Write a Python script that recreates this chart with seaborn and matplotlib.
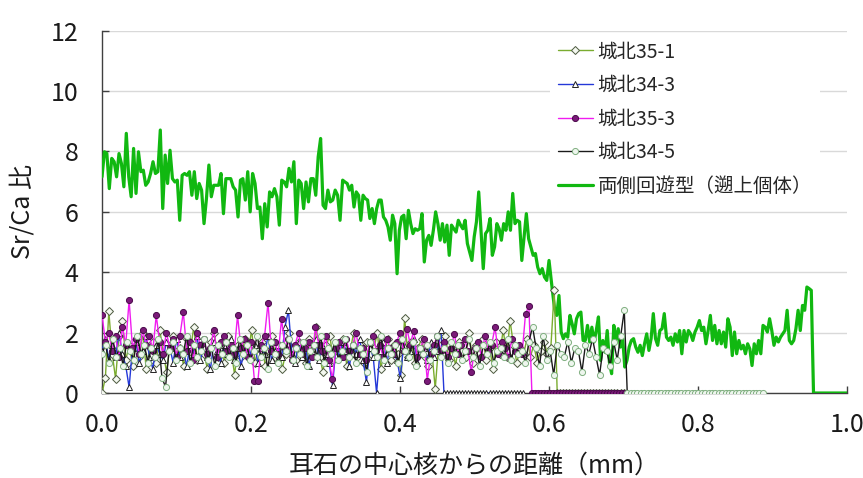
import numpy as np
import pandas as pd
import matplotlib
matplotlib.use("Agg")
import matplotlib.pyplot as plt
import seaborn as sns

sns.set_theme(style="white")
plt.rcParams["font.family"] = ["Noto Sans CJK JP", "DejaVu Sans"]

# ---------------------------------------------------------------------------
# Sr/Ca line-scan data (distance from otolith core, mm)
# ---------------------------------------------------------------------------
# amphidromous (upstream-migrating) reference profile, in three scan pieces
green_a = [7.16, 7.99, 7.93, 6.77, 7.77, 7.66, 7.16, 7.93, 7.60, 6.83, 8.60, 7.16, 6.50, 8.10, 6.61,
           7.99, 7.33, 7.38, 6.88, 6.99, 7.27, 7.66, 7.27, 7.33, 8.71, 6.11, 7.88, 6.94, 8.04, 7.10,
           6.99, 7.05, 5.72, 7.21, 7.27, 7.21, 7.33, 6.55, 7.33, 6.44, 6.94, 6.72, 5.61, 6.44, 7.55,
           6.50, 6.88, 6.88, 6.88, 7.27, 5.94, 7.10, 7.10, 7.10, 6.83, 6.72, 5.83, 7.05, 7.10, 6.39,
           7.33, 6.00, 7.27, 6.94, 6.11, 6.16, 5.11, 6.27, 5.50, 6.66, 6.50, 6.77, 6.50, 5.56, 7.05,
           6.99, 6.83, 7.44, 6.99, 7.66, 5.61, 7.05, 6.94, 6.11, 6.99, 6.33, 7.10, 7.10, 6.55, 7.82,
           8.43, 6.22, 6.11, 6.72, 6.33, 6.39, 6.72, 6.55, 5.72]
green_b = [7.05, 6.99, 6.94, 6.72, 6.88, 6.16, 6.66, 6.55, 5.72, 6.55, 6.44, 6.39, 5.78, 6.11, 5.61,
           6.11, 6.39, 6.39, 5.83, 5.72, 5.50, 5.06, 5.89, 5.61, 3.95, 5.39, 5.83, 5.89, 5.11, 6.05,
           5.61, 5.28, 5.44, 5.39, 5.44, 5.94, 4.34, 5.06, 5.22, 4.89, 5.39, 6.00, 5.61, 5.06, 5.61,
           5.00, 5.56, 4.56, 5.56, 5.44, 5.33, 5.72, 5.56, 5.44, 5.72, 4.95, 4.67, 4.39, 5.17, 5.67,
           6.66, 5.39, 4.12, 5.28, 5.39, 5.78, 4.56, 4.84, 5.61, 5.44, 5.06, 5.61, 5.39, 6.00, 5.39,
           6.61, 5.61, 5.72, 5.67, 4.39, 5.17, 5.94, 5.11, 4.84, 4.56, 4.62, 4.17, 3.95, 4.12, 3.84,
           3.73, 4.39]
green_c = [3.40, 2.79, 2.57, 3.23, 2.02, 1.80, 1.96, 1.85, 2.57, 2.29, 1.96, 2.46, 2.63, 2.68, 1.74,
           1.74, 2.24, 1.69, 2.18, 1.69, 2.07, 2.52, 1.08, 1.74, 1.35, 2.07, 1.02, 0.64, 2.24, 1.74,
           2.13, 1.52, 1.85, 0.86, 1.08, 1.52, 1.74, 1.80, 1.52, 1.35, 1.58, 1.24, 1.63, 1.96, 1.41,
           1.80, 2.63, 1.80, 1.58, 2.07, 2.13, 2.63, 1.85, 1.74, 1.85, 1.58, 1.96, 1.69, 2.07, 1.30,
           2.07, 1.69, 2.07, 1.96, 1.74, 2.02, 2.18, 2.40, 2.07, 2.18, 1.63, 2.07, 2.57, 1.74, 2.24,
           1.63, 2.07, 1.63, 2.02, 1.52, 2.46, 2.18, 1.24, 2.02, 1.30, 1.74, 1.46, 1.58, 1.30, 1.63,
           1.46, 0.91, 1.63, 1.30, 1.74, 1.30, 2.24, 2.18, 2.02, 2.46, 2.07, 1.58, 1.85, 1.69, 1.85,
           1.96, 2.07, 2.74, 1.74, 1.63, 1.74, 2.13, 2.74, 2.07, 2.90, 2.74, 3.51, 3.46, 3.40]
green_tail = [0.0, 0.0]
green_spans = [(0.0, 0.3195), (0.323, 0.600), (0.6045, 0.952), (0.955, 1.0)]

# 城北35-1
j351 = [0.0, 0.5, 2.7, 1.3, 0.47, 1.9, 2.4, 1.1, 1.6, 0.9, 1.8, 1.2, 2.0, 0.8, 1.5, 1.7, 1.0, 2.1, 1.3, 0.7,
        1.6, 1.9, 1.2, 1.5, 0.9, 1.8, 1.4, 2.2, 1.1, 1.6, 1.3, 0.8, 1.7, 2.0, 1.2, 1.5, 1.0, 1.9, 1.4, 0.6,
        1.6, 1.2, 1.8, 1.3, 2.1, 1.0, 1.5, 1.7, 0.9, 1.4, 1.9, 1.2, 1.6, 0.8, 1.3, 2.0, 1.5, 1.1, 1.7, 1.4,
        1.0, 1.8, 1.3, 2.2, 1.2, 0.7, 1.6, 1.9, 1.1, 1.5, 1.3, 1.8, 0.9, 1.4, 2.0, 1.2, 1.6, 1.0, 1.7, 1.3,
        1.5, 2.0, 0.8, 1.4, 1.8, 1.1, 1.6, 1.3, 0.6, 2.49, 1.2, 1.7, 1.0, 1.5, 1.8, 1.2, 0.9, 1.4, 0.14, 1.6,
        1.3, 1.9, 1.1, 1.5, 0.9, 1.7, 1.4, 1.2, 2.0, 1.0, 1.6, 1.3, 1.8, 1.1, 1.5, 0.8, 1.7, 1.3, 2.1, 1.2,
        2.4, 1.6, 1.0, 1.5, 1.3, 1.8, 1.2, 1.6, 1.0, 1.4, 1.7, 1.3, 1.5, 3.4]
j351_zero = [0.0] * 23
j351_spans = [(0.0, 0.607), (0.611, 0.70)]

# 城北34-3
j343 = [1.4, 1.8, 1.1, 1.6, 1.2, 2.0, 1.3, 0.9, 0.19, 1.5, 1.7, 1.0, 1.4, 1.9, 1.2, 0.8, 1.6, 1.3, 1.1, 1.7,
        1.5, 1.0, 1.8, 1.2, 1.4, 0.9, 1.6, 1.3, 1.9, 1.1, 1.5, 1.2, 0.8, 1.7, 1.4, 1.0, 1.6, 1.3, 1.8, 1.1,
        1.5, 0.9, 1.4, 1.7, 1.2, 1.6, 1.0, 1.5, 1.3, 1.9, 1.1, 1.4, 1.6, 1.2, 2.2, 2.74, 1.3, 1.0, 1.7, 1.2,
        1.5, 0.9, 1.4, 1.8, 1.1, 1.6, 1.3, 1.0, 0.25, 1.5, 1.2, 1.7, 1.4, 0.9, 1.6, 1.3, 1.8, 1.1, 0.36, 1.5,
        1.2, 0.0, 1.4, 1.7, 1.0, 1.5, 1.3, 1.1, 0.5, 1.6, 1.2, 1.4, 1.8, 1.0, 1.3, 1.5, 1.1, 1.7, 1.2, 1.4,
        2.09]
j343_zero = [0.0] * 27
j343_spans = [(0.0, 0.455), (0.459, 0.565)]

# 城北35-3
j353 = [2.59, 1.7, 2.0, 1.4, 1.9, 1.2, 2.2, 1.6, 3.07, 1.5, 1.8, 1.3, 2.1, 1.6, 1.9, 1.4, 2.57, 1.7, 1.3, 2.0,
        1.5, 1.8, 1.2, 1.9, 2.68, 1.4, 1.7, 1.1, 2.0, 1.6, 1.8, 1.3, 1.5, 2.1, 1.2, 1.7, 1.9, 1.4, 1.6, 1.3,
        2.57, 1.5, 1.8, 1.2, 1.7, 0.39, 0.39, 1.6, 1.9, 2.99, 1.4, 1.7, 1.3, 2.46, 1.5, 1.8, 1.1, 1.6, 2.0, 1.3,
        1.5, 1.7, 1.2, 2.18, 1.6, 1.4, 1.9, 1.1, 0.45, 1.5, 1.7, 1.2, 1.8, 1.4, 1.6, 2.0, 1.3, 1.5, 1.1, 1.7,
        1.9, 1.4, 1.6, 1.2, 1.8, 1.5, 1.3, 1.7, 2.0, 1.4, 2.13, 1.6, 2.07, 1.2, 1.5, 1.8, 0.41, 1.3, 1.6, 1.9,
        1.4, 1.7, 1.2, 1.5, 1.96, 1.3, 1.6, 1.8, 1.4, 0.69, 1.5, 1.7, 1.2, 1.9, 1.4, 1.6, 2.18, 1.3, 1.7, 1.5,
        1.2, 1.8, 1.4, 1.6, 1.3, 2.63, 2.87]
j353_zero = [0.0] * 32
j353_spans = [(0.0, 0.573), (0.577, 0.702)]

# 城北34-5
j345 = [1.3, 1.6, 1.0, 1.8, 1.2, 1.5, 0.9, 1.7, 1.4, 1.1, 1.9, 1.3, 1.6, 1.0, 1.5, 1.2, 1.8, 0.5, 0.2, 1.4,
        1.7, 1.1, 1.5, 1.3, 1.9, 1.0, 1.6, 1.2, 1.4, 1.8, 1.1, 1.5, 0.9, 1.6, 1.3, 1.7, 1.2, 1.5, 1.0, 1.8,
        1.3, 1.6, 1.1, 1.4, 1.9, 1.2, 1.5, 0.8, 1.7, 1.3, 1.0, 1.6, 1.4, 1.8, 1.1, 1.5, 1.3, 1.7, 0.9, 1.4,
        1.6, 1.2, 1.9, 1.0, 1.5, 1.3, 1.7, 1.1, 1.4, 1.8, 1.2, 1.6, 1.0, 1.5, 1.3, 0.7, 1.7, 1.4, 1.2, 1.9,
        1.1, 1.5, 1.3, 1.6, 1.0, 1.8, 1.4, 1.2, 1.7, 0.9, 1.5, 1.3, 1.6, 1.1, 1.4, 1.9, 1.2, 1.5, 1.0, 1.7,
        1.3, 1.6, 1.1, 1.4, 1.8, 1.2, 1.5, 0.9, 1.6, 1.3, 1.7, 1.0, 1.4, 1.5, 1.2, 1.8, 1.1, 1.6, 1.3, 1.4,
        1.0, 1.7, 2.2, 1.5, 0.9, 1.9, 1.1, 1.4, 0.6, 1.6, 1.3, 1.2, 1.7, 1.0, 1.5, 1.4, 0.7, 1.6, 1.3, 1.8,
        1.2, 0.6, 1.5, 1.4, 0.9, 1.7, 1.1, 1.9, 2.74]
j345_zero = [0.0] * 41
j345_spans = [(0.0, 0.701), (0.705, 0.887)]

x_ticks = [0.0, 0.2, 0.4, 0.6, 0.8, 1.0]
y_ticks = [0, 2, 4, 6, 8, 10, 12]


def positions(pieces, spans):
    """Sampling positions for each scan piece laid out along its span."""
    return np.concatenate([np.linspace(a, b, len(p)) for p, (a, b) in zip(pieces, spans)])


def frame(name, pieces, spans):
    return pd.DataFrame({"dist": positions(pieces, spans),
                         "srca": np.concatenate([np.asarray(p, float) for p in pieces]),
                         "series": name})


green_df = frame("両側回遊型（遡上個体）", [green_a, green_b, green_c, green_tail], green_spans)
series_defs = [
    ("城北35-1", [j351, j351_zero], j351_spans,
     dict(color="#7aac2f", marker="D", markersize=4.0, markerfacecolor="#f4f8f0", markeredgecolor="#4d5a40")),
    ("城北34-3", [j343, j343_zero], j343_spans,
     dict(color="#2438d8", marker="^", markersize=4.6, markerfacecolor="white", markeredgecolor="#222222")),
    ("城北35-3", [j353, j353_zero], j353_spans,
     dict(color="#f01cf0", marker="o", markersize=4.4, markerfacecolor="#7a1a78", markeredgecolor="#4a0a4a")),
    ("城北34-5", [j345, j345_zero], j345_spans,
     dict(color="#1a1a1a", marker="o", markersize=4.4, markerfacecolor="#eef6ee", markeredgecolor="#7fae7f")),
]

fig = plt.figure(figsize=(8.63, 4.78), dpi=100)
ax = fig.add_axes([0.1182, 0.1778, 0.8633, 0.7580])

sns.lineplot(data=green_df, x="dist", y="srca", ax=ax, sort=False, estimator=None,
             color="#11b811", lw=2.3, label=green_df["series"].iloc[0], zorder=2)
for name, pieces, spans, style in series_defs:
    df = frame(name, pieces, spans)
    sns.lineplot(data=df, x="dist", y="srca", ax=ax, sort=False, estimator=None,
                 lw=1.0, markeredgewidth=0.7, label=name, zorder=3, **style)

ax.set_xlim(0, 1.0)
ax.set_ylim(0, 12)
ax.set_xticks(x_ticks)
ax.set_xticklabels([f"{t:.1f}" for t in x_ticks])
ax.set_yticks(y_ticks)
ax.set_yticklabels([str(t) for t in y_ticks])
ax.yaxis.grid(True, color="#d9d9d9", lw=1.0)
ax.xaxis.grid(False)
ax.set_axisbelow(True)
for side in ("top", "right"):
    ax.spines[side].set_visible(False)
for side in ("left", "bottom"):
    ax.spines[side].set_color("#404040")
    ax.spines[side].set_linewidth(1.0)
    ax.spines[side].set_zorder(1)
ax.tick_params(axis="both", direction="in", length=5, width=1, color="#404040",
               labelsize=18, labelcolor="#1a1a1a", bottom=True, left=True)
ax.tick_params(axis="x", pad=14)
ax.tick_params(axis="y", pad=17)

ax.set_xlabel("耳石の中心核からの距離（mm）", fontsize=18, color="#1a1a1a", va="center")
ax.xaxis.set_label_coords(0.5, -0.201)
ax.set_ylabel("Sr/Ca 比", fontsize=18, color="#1a1a1a", va="center")
ax.yaxis.set_label_coords(-0.107, 0.5)

handles, labels = ax.get_legend_handles_labels()
order = [1, 2, 3, 4, 0]
leg = ax.legend([handles[i] for i in order], [labels[i] for i in order],
                loc="upper left", bbox_to_anchor=(0.588, 1.019), fontsize=14,
                frameon=True, facecolor="white", edgecolor="none", framealpha=1.0,
                handlelength=1.8, handletextpad=0.26, labelspacing=0.65, borderpad=0.4)
leg.set_zorder(5)

fig.savefig("out.png", dpi=100)
